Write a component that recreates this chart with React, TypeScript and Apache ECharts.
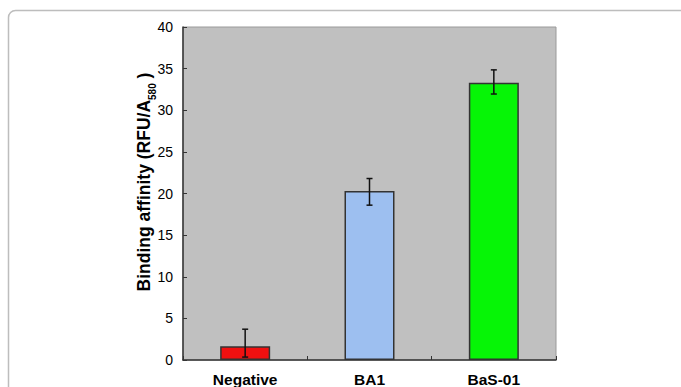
import React, { useEffect, useRef } from "react";
import * as echarts from "echarts";

const categories = ["Negative", "BA1", "BaS-01"];
const values = [1.65, 20.3, 33.3];
const errLow = [0.35, 18.6, 31.95];
const errHigh = [3.7, 21.8, 34.85];
const barColors = ["#f01010", "#9dbff0", "#06f506"];
const yTicks = { min: 0, max: 40, interval: 5 };

const FONT = "'Liberation Sans', Arial, Helvetica, sans-serif";

export default function App() {
  const ref = useRef<HTMLDivElement>(null);
  useEffect(() => {
    if (!ref.current) return;
    const chart = echarts.init(ref.current, undefined, { renderer: "svg" });
    chart.setOption({
      animation: false,
      backgroundColor: "#ffffff",
      grid: {
        left: 183,
        right: 125,
        top: 27,
        bottom: 25,
        show: true,
        backgroundColor: "#c0c0c0",
        borderColor: "#9a9a9a",
        borderWidth: 1,
      },
      xAxis: {
        type: "category",
        data: categories,
        axisLine: { show: true, lineStyle: { color: "#333", width: 1.5 } },
        axisTick: { show: true, inside: true, length: 4, alignWithLabel: false, lineStyle: { color: "#333" } },
        axisLabel: { fontFamily: FONT, fontSize: 15.5, fontWeight: "bold", color: "#000", margin: 11 },
        splitLine: { show: false },
      },
      yAxis: {
        type: "value",
        min: yTicks.min,
        max: yTicks.max,
        interval: yTicks.interval,
        axisLine: { show: true, lineStyle: { color: "#333", width: 1.5 } },
        axisTick: { show: true, inside: true, length: 4, lineStyle: { color: "#333" } },
        axisLabel: { fontFamily: FONT, fontSize: 14, color: "#000", margin: 10 },
        splitLine: { show: false },
      },
      graphic: [
        {
          type: "rect",
          shape: { x: 8.5, y: 10.5, width: 720, height: 420, r: 7 },
          style: { fill: "none", stroke: "#bdbdbd", lineWidth: 1.5 },
          silent: true,
          z: -1,
        },
        {
          type: "text",
          x: 143,
          y: 182,
          rotation: Math.PI / 2,
          style: {
            text: "{m|Binding affinity (RFU/A}{s|580}{m| )}",
            align: "center",
            verticalAlign: "middle",
            rich: {
              m: { fontFamily: FONT, fontSize: 17.5, fontWeight: "bold", fill: "#000", lineHeight: 20, verticalAlign: "bottom" },
              s: { fontFamily: FONT, fontSize: 10, fontWeight: "bold", fill: "#000", lineHeight: 20, verticalAlign: "bottom", padding: [0, 0, -4, 0] },
            },
          },
        },
      ],
      series: [
        {
          type: "bar",
          barWidth: 50,
          data: values.map((v, i) => ({
            value: v,
            itemStyle: { color: barColors[i], borderColor: "#333", borderWidth: 1.5 },
          })),
          z: 2,
        },
        {
          type: "custom",
          z: 3,
          data: categories.map((_, i) => [i, errLow[i], errHigh[i]]),
          renderItem: (params: any, api: any) => {
            const i = api.value(0);
            const lo = api.coord([i, api.value(1)]);
            const hi = api.coord([i, api.value(2)]);
            const cap = 3;
            const style = { stroke: "#111", lineWidth: 1.5 };
            return {
              type: "group",
              children: [
                { type: "line", shape: { x1: lo[0], y1: lo[1], x2: hi[0], y2: hi[1] }, style },
                { type: "line", shape: { x1: hi[0] - cap, y1: hi[1], x2: hi[0] + cap, y2: hi[1] }, style },
                { type: "line", shape: { x1: lo[0] - cap, y1: lo[1], x2: lo[0] + cap, y2: lo[1] }, style },
              ],
            };
          },
        },
      ],
    });
    return () => chart.dispose();
  }, []);
  return <div ref={ref} style={{ position: "fixed", left: 0, top: 0, width: 681, height: 387 }} />;
}
